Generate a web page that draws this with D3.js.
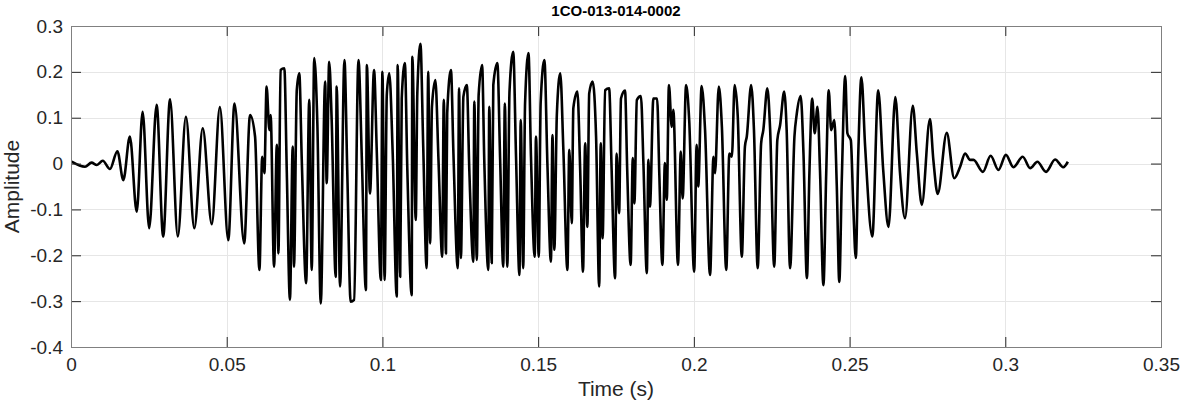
<!DOCTYPE html>
<html>
<head>
<meta charset="utf-8">
<script src="https://cdn.jsdelivr.net/npm/d3@7"></script>
<style>
  body { margin: 0; background: #fff; }
  text { font-family: "Liberation Sans", Arial, Helvetica, sans-serif; }
</style>
</head>
<body>
<div id="my_dataviz"></div>
<script>
// waveform: turning points of the signal
var timeSec = [
  0.0002,0.0045,0.0066,0.0083,0.0102,0.0125,0.0149,0.0168,0.0189,0.0211,0.0230,0.0251,0.0275,0.0296,0.0318,0.0343,0.0369,0.0396,0.0423,0.0452,0.0478,0.0505,0.0525,
  0.0556,0.0575,0.0591,0.0605,0.0614,0.0621,0.0628,0.0637,0.0641,0.0652,0.0661,0.0666,0.0673,0.0685,0.0693,0.0703,0.0712,0.0716,0.0725,0.0733,0.0741,0.0755,0.0765,0.0773,0.0781,0.0791,0.0802,0.0816,0.0821,0.0829,0.0837,0.0850,0.0853,0.0864,0.0878,0.0887,0.0898,0.0909,0.0923,0.0934,0.0947,0.0950,0.0960,0.0973,
  0.0982,0.0995,0.1000,0.1007,0.1014,0.1022,0.1033,0.1046,0.1049,0.1057,0.1062,0.1072,0.1080,0.1094,0.1096,0.1107,0.1112,0.1122,0.1131,0.1142,0.1147,0.1153,0.1159,0.1170,0.1180,0.1192,0.1197,0.1204,0.1208,0.1220,0.1228,0.1242,0.1246,0.1252,0.1260,0.1271,0.1279,0.1292,0.1295,0.1303,0.1309,0.1320,0.1327,0.1340,0.1343,0.1351,0.1356,0.1369,0.1378,0.1388,0.1393,0.1401,0.1408,0.1420,0.1429,0.1440,
  0.1444,0.1452,0.1458,0.1469,0.1477,0.1489,0.1493,0.1502,0.1508,0.1520,0.1530,0.1541,0.1546,0.1552,0.1560,0.1571,0.1581,0.1594,0.1600,0.1608,0.1613,0.1626,0.1635,0.1644,0.1651,0.1658,0.1664,0.1675,0.1686,0.1696,0.1701,0.1707,0.1715,0.1728,0.1736,0.1747,0.1752,0.1760,0.1766,0.1779,0.1786,0.1797,0.1804,0.1809,0.1817,0.1830,0.1838,0.1849,0.1854,0.1859,0.1870,0.1882,
  0.1889,0.1899,0.1907,0.1913,0.1920,0.1929,0.1934,0.1949,0.1958,0.1964,0.1975,0.1985,0.2001,0.2009,0.2014,0.2025,0.2036,0.2052,0.2063,0.2068,0.2080,0.2090,0.2104,0.2114,0.2122,0.2131,0.2141,0.2154,0.2164,0.2170,0.2184,0.2193,0.2205,0.2216,0.2223,0.2236,0.2245,0.2258,0.2268,0.2277,0.2290,0.2298,0.2309,0.2323,0.2330,
  0.2343,0.2352,0.2363,0.2371,0.2380,0.2388,0.2397,0.2405,0.2416,0.2425,0.2433,0.2441,0.2451,0.2459,0.2467,0.2475,0.2486,0.2493,0.2504,0.2512,0.2520,0.2528,0.2538,0.2550,0.2573,0.2592,0.2608,0.2625,0.2647,0.2662,0.2678,0.2703,0.2716,0.2732,0.2758,0.2769,
  0.2783,0.2812,0.2836,0.2855,0.2871,0.2887,0.2898,0.2928,0.2953,0.2978,0.3002,0.3026,0.3056,0.3080,0.3103,0.3131,0.3160,0.3186,0.3201
];
var amplitude = [
  0.004,-0.007,0.002,-0.003,0.006,-0.012,0.027,-0.036,0.059,-0.105,0.113,-0.141,0.128,-0.159,0.140,-0.159,0.102,-0.141,0.077,-0.132,0.123,-0.167,0.131,
  -0.174,0.106,0.059,-0.232,0.015,-0.021,0.168,0.073,0.106,-0.225,0.041,-0.196,0.204,0.208,-0.021,-0.297,0.037,-0.225,0.160,0.197,0.008,-0.261,0.139,-0.232,0.230,0.088,-0.305,0.179,-0.043,0.222,0.095,-0.247,0.168,-0.268,0.226,-0.014,-0.301,-0.297,0.226,0.008,-0.276,0.215,-0.065,0.204,
  0.023,-0.254,0.200,-0.254,0.150,0.197,0.022,-0.290,0.215,-0.247,0.142,0.219,-0.014,-0.287,0.233,-0.123,0.153,0.261,0.037,-0.228,0.200,-0.174,0.124,0.182,0.008,-0.203,0.139,-0.196,0.110,0.204,0.022,-0.228,0.164,-0.206,0.146,0.171,-0.014,-0.214,0.135,-0.210,0.150,0.215,0.008,-0.232,0.124,-0.217,0.171,0.219,0.008,-0.225,0.131,-0.225,0.157,0.244,0.015,-0.243,
  0.095,-0.228,0.131,0.241,0.015,-0.203,0.059,-0.203,0.131,0.226,-0.007,-0.214,0.062,-0.188,0.106,0.197,0.030,-0.232,0.030,-0.130,0.121,0.157,-0.014,-0.236,0.044,-0.138,0.153,0.179,0.059,-0.268,0.044,-0.163,0.160,0.164,-0.014,-0.250,0.022,-0.108,0.142,0.159,-0.014,-0.221,0.012,-0.087,0.139,0.147,0.001,-0.239,0.008,-0.094,0.142,0.142,
  -0.021,-0.221,0.001,-0.079,0.171,0.080,0.117,-0.221,0.026,-0.076,0.171,0.095,-0.236,0.041,-0.050,0.169,0.073,-0.243,0.015,-0.021,0.168,0.080,-0.232,0.022,0.015,0.171,0.102,-0.203,0.037,0.059,0.171,0.073,-0.228,0.044,0.073,0.164,0.073,-0.225,0.051,0.084,0.157,0.073,-0.228,0.059,0.106,
  0.147,0.022,-0.250,-0.021,0.142,0.066,0.124,-0.014,-0.265,-0.021,0.160,0.073,0.095,-0.050,-0.258,-0.036,0.191,0.066,0.051,-0.094,-0.206,0.022,0.188,0.037,-0.159,0.160,-0.014,-0.138,0.145,-0.021,-0.119,0.126,0.022,-0.090,0.097,0.008,
  -0.066,0.067,-0.032,-0.007,0.022,0.008,0.008,-0.018,0.017,-0.014,0.019,-0.008,0.015,-0.010,0.004,-0.018,0.009,-0.008,0.004
];

var xTicks = [0, 0.05, 0.1, 0.15, 0.2, 0.25, 0.3, 0.35];
var xTickLabels = ["0", "0.05", "0.1", "0.15", "0.2", "0.25", "0.3", "0.35"];
var yTicks = [-0.4, -0.3, -0.2, -0.1, 0, 0.1, 0.2, 0.3];
var yTickLabels = ["-0.4", "-0.3", "-0.2", "-0.1", "0", "0.1", "0.2", "0.3"];

var chartTitle = "1CO-013-014-0002";
var xLabel = "Time (s)";
var yLabel = "Amplitude";

// set the dimensions and margins of the graph
var margin = {top: 26, right: 21, bottom: 57, left: 71},
  width = 1182 - margin.left - margin.right,
  height = 404 - margin.top - margin.bottom;

var svg = d3.select("#my_dataviz")
.append("svg")
  .attr("width", width + margin.left + margin.right)
  .attr("height", height + margin.top + margin.bottom)
.append("g")
  .attr("transform", "translate(" + margin.left + "," + margin.top + ")");

var x = d3.scaleLinear().domain([0, 0.35]).range([0, width]);
var y = d3.scaleLinear().domain([-0.4, 0.3]).range([height, 0]);

// grid
svg.append("g").selectAll("line")
  .data(xTicks.slice(1, -1))
  .enter().append("line")
    .attr("x1", function(d) { return Math.round(x(d)) + 0.5; })
    .attr("x2", function(d) { return Math.round(x(d)) + 0.5; })
    .attr("y1", 0).attr("y2", height)
    .style("stroke", "#e6e6e6");
svg.append("g").selectAll("line")
  .data(yTicks.slice(1, -1))
  .enter().append("line")
    .attr("y1", function(d) { return Math.round(y(d)) + 0.5; })
    .attr("y2", function(d) { return Math.round(y(d)) + 0.5; })
    .attr("x1", 0).attr("x2", width)
    .style("stroke", "#e6e6e6");

// the waveform
var pts = timeSec.map(function(t, i) { return [t, amplitude[i]]; });
svg.append("path")
  .datum(pts)
  .attr("fill", "none")
  .attr("stroke", "#000")
  .attr("stroke-width", 2.6)
  .attr("stroke-linejoin", "round")
  .attr("d", d3.line()
    .x(function(d) { return x(d[0]); })
    .y(function(d) { return y(d[1]); })
    .curve(d3.curveMonotoneX));

// axes, ticks pointing inward
function styleAxis(g) {
  g.select(".domain").remove();
  g.selectAll(".tick line").style("stroke", "#262626");
  g.selectAll("text").style("font-size", "19px").style("fill", "#262626");
}
svg.append("g")
  .attr("transform", "translate(0," + height + ")")
  .call(d3.axisBottom(x).tickValues(xTicks).tickFormat(function(d, i) { return xTickLabels[i]; })
    .tickSize(-10).tickPadding(11))
  .call(styleAxis);
svg.append("g")
  .call(d3.axisTop(x).tickValues(xTicks).tickFormat("").tickSize(-10))
  .call(styleAxis);
svg.append("g")
  .call(d3.axisLeft(y).tickValues(yTicks).tickFormat(function(d, i) { return yTickLabels[i]; })
    .tickSize(-10).tickPadding(8))
  .call(styleAxis);
svg.append("g")
  .attr("transform", "translate(" + width + ",0)")
  .call(d3.axisRight(y).tickValues(yTicks).tickFormat("").tickSize(-10))
  .call(styleAxis);

// box
svg.append("rect")
  .attr("x", 0.5).attr("y", 0.5)
  .attr("width", width).attr("height", height)
  .style("fill", "none")
  .style("stroke", "#808080");

// labels
svg.append("text")
  .attr("x", width / 2)
  .attr("y", -10)
  .attr("text-anchor", "middle")
  .style("font-size", "15px")
  .style("font-weight", "bold")
  .style("fill", "#000")
  .text(chartTitle);
svg.append("text")
  .attr("x", width / 2)
  .attr("y", height + 49)
  .attr("text-anchor", "middle")
  .style("font-size", "21px")
  .style("fill", "#262626")
  .text(xLabel);
svg.append("text")
  .attr("transform", "rotate(-90)")
  .attr("x", -height / 2)
  .attr("y", -52)
  .attr("text-anchor", "middle")
  .style("font-size", "21px")
  .style("fill", "#262626")
  .text(yLabel);
</script>
</body>
</html>
